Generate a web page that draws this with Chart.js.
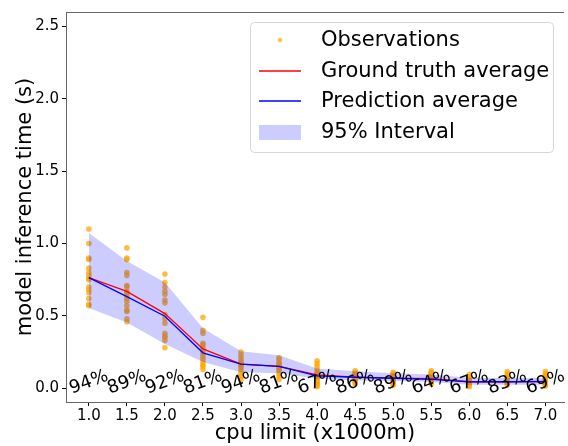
<!DOCTYPE html>
<html>
<head>
<meta charset="utf-8">
<script src="https://cdn.jsdelivr.net/npm/chart.js@4.4.0/dist/chart.umd.min.js"></script>
<style>
	html, body { margin: 0; padding: 0; background: #fff; overflow: hidden; }
	canvas { display: block; }
</style>
</head>
<body>
<canvas id="chart" width="568" height="446"></canvas>
<script>

var cpuLimits = [1.0, 1.5, 2.0, 2.5, 3.0, 3.5, 4.0, 4.5, 5.0, 5.5, 6.0, 6.5, 7.0];

// measured inference times, one list per cpu limit
var observed = [
	[1.10, 1.00, 0.90, 0.89, 0.83, 0.80, 0.78, 0.76, 0.75, 0.70, 0.68, 0.66, 0.62, 0.58, 0.57],
	[0.97, 0.90, 0.89, 0.80, 0.78, 0.71, 0.70, 0.67, 0.66, 0.64, 0.62, 0.60, 0.57, 0.54, 0.53, 0.48, 0.46],
	[0.79, 0.73, 0.70, 0.67, 0.65, 0.61, 0.59, 0.51, 0.48, 0.45, 0.38, 0.36, 0.35, 0.33, 0.28],
	[0.49, 0.40, 0.38, 0.31, 0.30, 0.28, 0.26, 0.24, 0.22, 0.20, 0.18, 0.16, 0.15, 0.13],
	[0.25, 0.23, 0.21, 0.19, 0.18, 0.17, 0.16, 0.15, 0.14, 0.12, 0.10, 0.08, 0.06],
	[0.21, 0.20, 0.18, 0.17, 0.16, 0.15, 0.14, 0.13, 0.12, 0.10, 0.08, 0.06],
	[0.19, 0.17, 0.15, 0.13, 0.11, 0.10, 0.09, 0.08, 0.07, 0.06, 0.05, 0.04, 0.03, 0.02, 0.01],
	[0.12, 0.11, 0.10, 0.09, 0.08, 0.07, 0.06, 0.05, 0.04, 0.03],
	[0.11, 0.10, 0.09, 0.08, 0.07, 0.06, 0.05, 0.04, 0.03, 0.02],
	[0.12, 0.11, 0.10, 0.09, 0.08, 0.07, 0.06, 0.05, 0.04, 0.03],
	[0.095, 0.08, 0.07, 0.06, 0.05, 0.04, 0.03, 0.02, 0.01],
	[0.115, 0.10, 0.09, 0.08, 0.07, 0.06, 0.05, 0.04, 0.03, 0.02],
	[0.115, 0.10, 0.09, 0.08, 0.07, 0.06, 0.05, 0.04, 0.03, 0.02, 0.015]
];

var truthAvg = [0.765, 0.669, 0.516, 0.272, 0.167, 0.151, 0.092, 0.077, 0.070, 0.066, 0.045, 0.045, 0.047];
var predAvg  = [0.765, 0.633, 0.498, 0.245, 0.167, 0.151, 0.086, 0.076, 0.069, 0.062, 0.044, 0.045, 0.046];
var bandHigh = [1.072, 0.880, 0.730, 0.414, 0.255, 0.228, 0.137, 0.117, 0.104, 0.095, 0.072, 0.070, 0.070];
var bandLow  = [0.554, 0.455, 0.306, 0.182, 0.110, 0.103, 0.065, 0.054, 0.050, 0.043, 0.025, 0.025, 0.024];

// share of observations inside the interval
var coverage = [94, 89, 92, 81, 94, 81, 67, 86, 89, 64, 67, 83, 69];

var xTicks = [1.0, 1.5, 2.0, 2.5, 3.0, 3.5, 4.0, 4.5, 5.0, 5.5, 6.0, 6.5, 7.0];
var yTicks = [0.0, 0.5, 1.0, 1.5, 2.0, 2.5];

var FONT = "'DejaVu Sans', sans-serif";
var ORANGE = 'rgba(255,165,0,0.75)';
var BAND = 'rgba(0,0,255,0.2)';

function toPoints(ys) {
	return cpuLimits.map(function(x, i) { return { x: x, y: ys[i] }; });
}

var obsPoints = [];
cpuLimits.forEach(function(x, i) {
	observed[i].forEach(function(y) { obsPoints.push({ x: x, y: y }); });
});

// top spine, coverage labels and the legend box
var extras = {
	id: 'extras',
	afterDraw: function(chart) {
		var ctx = chart.ctx;
		var area = chart.chartArea;
		var xs = chart.scales.x, ys = chart.scales.y;

		ctx.save();
		ctx.strokeStyle = '#666';
		ctx.lineWidth = 1;
		ctx.beginPath();
		ctx.moveTo(area.left, area.top + 0.5);
		ctx.lineTo(area.right, area.top + 0.5);
		ctx.stroke();

		ctx.fillStyle = '#000';
		ctx.font = '18px ' + FONT;
		ctx.textAlign = 'center';
		ctx.textBaseline = 'middle';
		cpuLimits.forEach(function(x, i) {
			ctx.save();
			ctx.translate(xs.getPixelForValue(x), ys.getPixelForValue(0.04));
			ctx.rotate(-20 * Math.PI / 180);
			ctx.fillText(coverage[i] + '%', 0, 0);
			ctx.restore();
		});

		// legend
		var bx = area.right - 314, by = area.top + 10, bw = 303, bh = 130;
		ctx.beginPath();
		ctx.roundRect(bx + 0.5, by + 0.5, bw, bh, 4);
		ctx.fillStyle = 'rgba(255,255,255,0.8)';
		ctx.fill();
		ctx.strokeStyle = '#d6d6d6';
		ctx.stroke();

		var hx = bx + 9, hw = 42, tx = bx + 71;
		var rows = [by + 18, by + 49, by + 79, by + 110];

		ctx.fillStyle = ORANGE;
		ctx.beginPath();
		ctx.arc(hx + hw / 2, rows[0], 2.2, 0, Math.PI * 2);
		ctx.fill();

		ctx.lineWidth = 1.3;
		ctx.strokeStyle = '#ff0000';
		ctx.beginPath();
		ctx.moveTo(hx, rows[1]); ctx.lineTo(hx + hw, rows[1]);
		ctx.stroke();
		ctx.strokeStyle = '#0000ff';
		ctx.beginPath();
		ctx.moveTo(hx, rows[2]); ctx.lineTo(hx + hw, rows[2]);
		ctx.stroke();

		ctx.fillStyle = BAND;
		ctx.fillRect(hx, rows[3] - 7, hw, 15);

		ctx.fillStyle = '#000';
		ctx.font = '21px ' + FONT;
		ctx.textAlign = 'left';
		ctx.textBaseline = 'middle';
		['Observations', 'Ground truth average', 'Prediction average', '95% Interval'].forEach(function(t, i) {
			ctx.fillText(t, tx, rows[i] + 1);
		});
		ctx.restore();
	}
};

var axisGrid = {
	display: true,
	drawOnChartArea: false,
	drawTicks: true,
	tickLength: 4,
	tickColor: '#000'
};

var chart = new Chart(document.getElementById('chart').getContext('2d'), {
	type: 'scatter',
	data: {
		datasets: [
			{
				label: 'Observations',
				data: obsPoints,
				backgroundColor: ORANGE,
				borderWidth: 0,
				pointRadius: 2.8,
				order: 4
			},
			{
				label: 'lower',
				type: 'line',
				data: toPoints(bandLow),
				borderWidth: 0,
				borderColor: 'rgba(0,0,0,0)',
				pointRadius: 0,
				fill: false,
				order: 3
			},
			{
				label: '95% Interval',
				type: 'line',
				data: toPoints(bandHigh),
				borderWidth: 0,
				borderColor: 'rgba(0,0,0,0)',
				backgroundColor: BAND,
				pointRadius: 0,
				fill: '-1',
				order: 3
			},
			{
				label: 'Ground truth average',
				type: 'line',
				data: toPoints(truthAvg),
				borderColor: '#ff0000',
				borderWidth: 1.3,
				pointRadius: 0,
				fill: false,
				order: 1
			},
			{
				label: 'Prediction average',
				type: 'line',
				data: toPoints(predAvg),
				borderColor: '#0000ff',
				borderWidth: 1.3,
				pointRadius: 0,
				fill: false,
				order: 0
			}
		]
	},
	options: {
		responsive: false,
		animation: false,
		events: [],
		layout: { padding: { top: 3, right: 0, left: 0, bottom: 0 } },
		plugins: {
			legend: { display: false },
			tooltip: { enabled: false }
		},
		scales: {
			x: {
				type: 'linear',
				min: 0.7,
				max: 7.245,
				afterFit: function(scale) { scale.height = 44; },
				afterBuildTicks: function(scale) {
					scale.ticks = xTicks.map(function(v) { return { value: v }; });
				},
				grid: axisGrid,
				border: { display: true, color: '#666', width: 1 },
				ticks: {
					padding: 1,
					color: '#000',
					font: { family: FONT, size: 15 },
					callback: function(v) { return v.toFixed(1); }
				},
				title: {
					display: true,
					text: 'cpu limit (x1000m)',
					color: '#000',
					font: { family: FONT, size: 21 },
					padding: { top: 0, bottom: 0 }
				}
			},
			y: {
				min: -0.095,
				max: 2.6,
				afterFit: function(scale) { scale.width = 66; },
				afterBuildTicks: function(scale) {
					scale.ticks = yTicks.map(function(v) { return { value: v }; });
				},
				grid: axisGrid,
				border: { display: true, color: '#666', width: 1 },
				ticks: {
					padding: 3,
					color: '#000',
					font: { family: FONT, size: 15 },
					callback: function(v) { return v.toFixed(1); }
				},
				title: {
					display: true,
					text: 'model inference time (s)',
					color: '#000',
					font: { family: FONT, size: 21 },
					padding: { top: 13, bottom: 0 }
				}
			}
		}
	},
	plugins: [extras]
});

</script>
</body>
</html>
